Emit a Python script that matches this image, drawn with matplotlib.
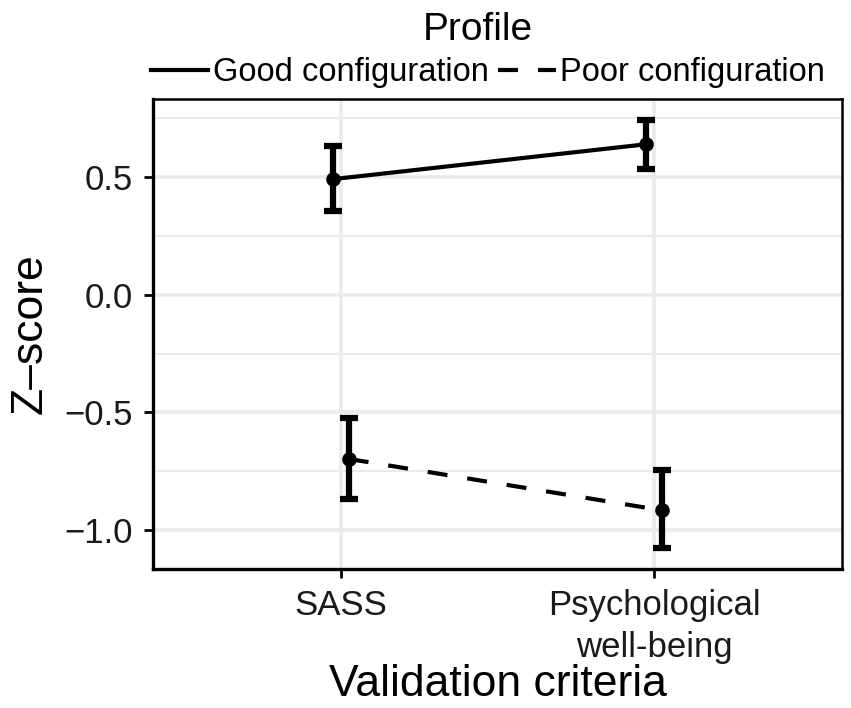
import matplotlib
matplotlib.use("Agg")
import matplotlib.pyplot as plt
from matplotlib.lines import Line2D

plt.rcParams['font.family'] = ['Liberation Sans', 'DejaVu Sans']

# data
criteria = ["SASS", "Psychological\nwell-being"]
profiles = ["Good configuration", "Poor configuration"]
good_mean = [0.490, 0.638]
good_low = [0.356, 0.532]
good_high = [0.631, 0.739]
poor_mean = [-0.697, -0.915]
poor_low = [-0.867, -1.073]
poor_high = [-0.522, -0.746]

fig = plt.figure(figsize=(8.51, 7.08), dpi=100)
ax = fig.add_axes([153 / 851, 1 - 569 / 708, 689 / 851, 470 / 708])

x = list(range(len(criteria)))
dodge = 0.025
dash = (0, (4.8, 4.8))
series = [
    (good_mean, good_low, good_high, -dodge, "-"),
    (poor_mean, poor_low, poor_high, dodge, dash),
]

for mean, low, high, off, ls in series:
    xs = [v + off for v in x]
    err = [[m - l for m, l in zip(mean, low)], [h - m for m, h in zip(mean, high)]]
    ax.plot(xs, mean, color="black", lw=3, linestyle=ls, zorder=3)
    ax.errorbar(xs, mean, yerr=err, fmt="o", color="black", ms=9.5,
                elinewidth=4.5, capsize=6.5, capthick=4.5, zorder=4)

ax.set_xlim(-0.6, 1.6)
ax.set_ylim(-1.164, 0.830)
ax.set_xticks(x)
ax.set_xticklabels(criteria, linespacing=1.35)
ax.set_yticks([-1.0, -0.5, 0.0, 0.5])
ax.set_yticklabels(["\u22121.0", "\u22120.5", "0.0", "0.5"])
ax.set_yticks([-0.75, -0.25, 0.25, 0.75], minor=True)

ax.grid(True, which="major", color="#EBEBEB", lw=2.6)
ax.grid(True, which="minor", axis="y", color="#EBEBEB", lw=1.4)
ax.set_axisbelow(True)

for side in ["left", "bottom"]:
    ax.spines[side].set_linewidth(2.4)
for side in ["top", "right"]:
    ax.spines[side].set_linewidth(1.8)
    ax.spines[side].set_zorder(5)

ax.tick_params(axis="both", which="major", labelsize=25, length=6.5, width=2,
               pad=8, colors="black", labelcolor="#1a1a1a")
ax.tick_params(axis="y", which="minor", length=0)

ax.set_xlabel("Validation criteria", fontsize=32, labelpad=0)
ax.set_ylabel("Z\u2013score", fontsize=32, labelpad=10)

fig.text(478 / 851, 1 - 30 / 708, "Profile", fontsize=28, ha="center", va="center")
handles = [Line2D([], [], color="black", lw=3, linestyle="-"),
           Line2D([], [], color="black", lw=3, linestyle=dash)]
fig.legend(handles, profiles, loc="center", bbox_to_anchor=(488 / 851, 1 - 73 / 708),
           ncol=2, frameon=False, fontsize=23.5, handlelength=1.75,
           handletextpad=0.15, columnspacing=0.3, borderpad=0, borderaxespad=0)

fig.savefig("out.png", dpi=100)
